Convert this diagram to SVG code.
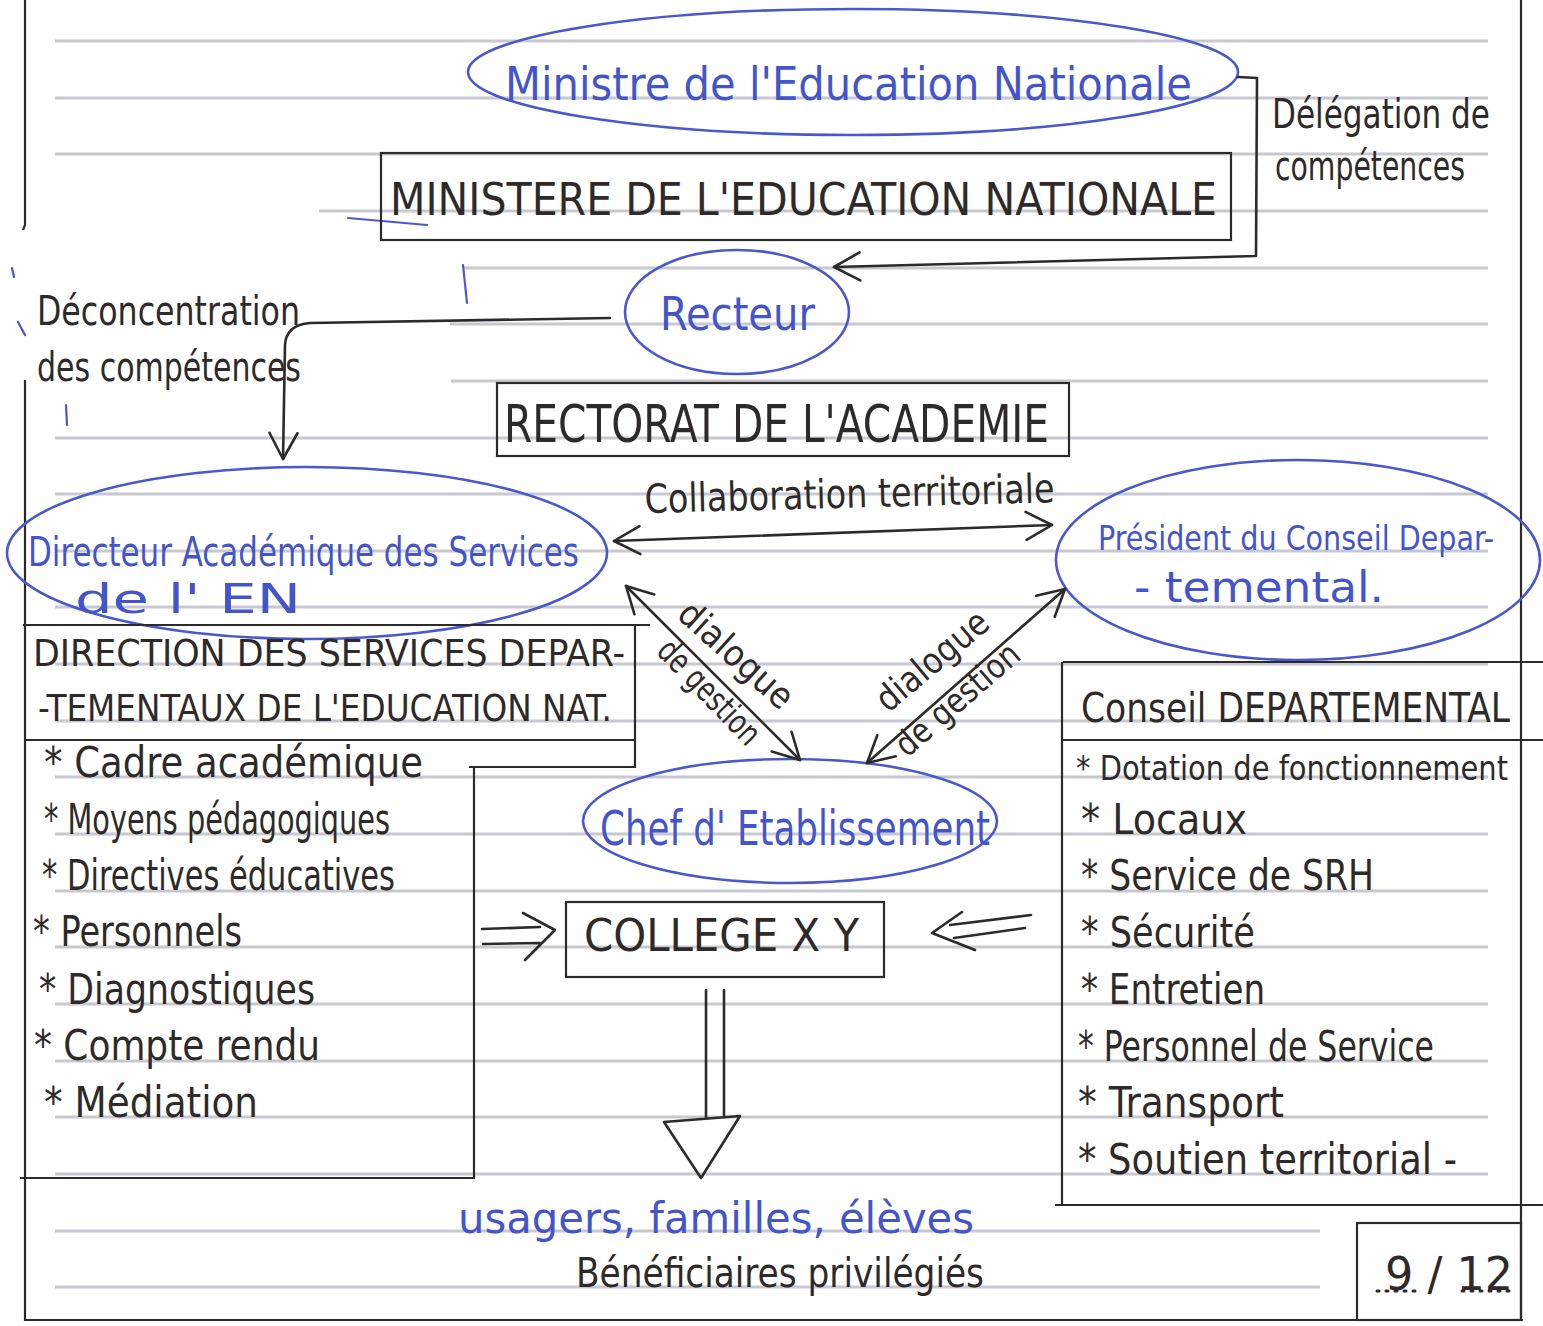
<svg xmlns="http://www.w3.org/2000/svg" width="1543" height="1326" viewBox="0 0 1543 1326">
<defs>
<style>
.rule{stroke:#c8c8d0;stroke-width:3;fill:none}
.ink{stroke:#2e2a2a;stroke-width:2.6;fill:none;stroke-linecap:round;stroke-linejoin:round}
.frame{stroke:#2e2a2a;stroke-width:2.2;fill:none}
.blue{stroke:#4a58cf;stroke-width:2.6;fill:none}
.bt{stroke:#4a58cf;stroke-width:2.2;fill:none;stroke-linecap:round}
text{font-family:'Liberation Sans Narrow','DejaVu Sans Condensed','Liberation Sans',sans-serif;fill:#2e2a2a}
.tb{fill:#4455cc}
</style>
<marker id="chev" viewBox="-32 -20 36 40" refX="0" refY="0" markerWidth="36" markerHeight="40" markerUnits="userSpaceOnUse" orient="auto-start-reverse">
<path d="M-26,-14 L0,0 L-26,14" fill="none" stroke="#2e2a2a" stroke-width="2.6" stroke-linecap="round" stroke-linejoin="round"/>
</marker>
</defs>
<rect width="1543" height="1326" fill="#ffffff"/>

<g id="ruled-lines">
<line class="rule" x1="55" y1="41" x2="1488" y2="41"/>
<line class="rule" x1="55" y1="98" x2="1488" y2="98"/>
<line class="rule" x1="55" y1="154" x2="1488" y2="154"/>
<line class="rule" x1="319" y1="211" x2="1488" y2="211"/>
<line class="rule" x1="464" y1="268" x2="1488" y2="268"/>
<line class="rule" x1="450" y1="324" x2="1488" y2="324"/>
<line class="rule" x1="451" y1="381" x2="1488" y2="381"/>
<line class="rule" x1="55" y1="438" x2="1488" y2="438"/>
<line class="rule" x1="55" y1="494" x2="1488" y2="494"/>
<line class="rule" x1="55" y1="551" x2="1488" y2="551"/>
<line class="rule" x1="55" y1="607" x2="1488" y2="607"/>
<line class="rule" x1="55" y1="664" x2="1488" y2="664"/>
<line class="rule" x1="55" y1="721" x2="1488" y2="721"/>
<line class="rule" x1="55" y1="777" x2="1488" y2="777"/>
<line class="rule" x1="55" y1="834" x2="1488" y2="834"/>
<line class="rule" x1="55" y1="891" x2="1488" y2="891"/>
<line class="rule" x1="55" y1="947" x2="1488" y2="947"/>
<line class="rule" x1="55" y1="1004" x2="1488" y2="1004"/>
<line class="rule" x1="55" y1="1061" x2="1488" y2="1061"/>
<line class="rule" x1="55" y1="1117" x2="1488" y2="1117"/>
<line class="rule" x1="55" y1="1174" x2="1488" y2="1174"/>
<line class="rule" x1="55" y1="1231" x2="1320" y2="1231"/>
<line class="rule" x1="55" y1="1287" x2="1320" y2="1287"/>
</g>

<g id="page-frame">
<path class="frame" d="M25,0 L25,225 L23,230"/>
<path class="frame" d="M25,380 L25,1320 L1523,1320"/>
<line class="frame" x1="1521" y1="0" x2="1521" y2="1320"/>
<line class="bt" x1="12" y1="268" x2="14" y2="277"/>
<line class="bt" x1="18" y1="322" x2="25" y2="335"/>
<line class="bt" x1="463" y1="265" x2="467" y2="303"/>
<line class="bt" x1="66" y1="405" x2="67" y2="425"/>
<line class="bt" x1="348" y1="218" x2="427" y2="225"/>
</g>

<g id="ministre">
<ellipse class="blue" cx="853" cy="72" rx="385" ry="63"/>
<text class="tb" x="505" y="100" font-size="46" textLength="687" lengthAdjust="spacingAndGlyphs">Ministre de l'Education Nationale</text>
</g>

<g id="ministere">
<rect class="frame" x="381" y="153" width="850" height="87"/>
<text x="390" y="215" font-size="44" textLength="827" lengthAdjust="spacingAndGlyphs">MINISTERE DE L'EDUCATION NATIONALE</text>
</g>

<g id="delegation-label">
<text x="1272" y="128" font-size="40" textLength="218" lengthAdjust="spacingAndGlyphs">Délégation de</text>
<text x="1275" y="180" font-size="40" textLength="190" lengthAdjust="spacingAndGlyphs">compétences</text>
</g>

<g id="recteur">
<ellipse class="blue" cx="737" cy="312" rx="112" ry="62"/>
<text class="tb" x="660" y="330" font-size="46" textLength="155" lengthAdjust="spacingAndGlyphs">Recteur</text>
</g>

<g id="deconcentration-label">
<text x="37" y="325" font-size="40" textLength="263" lengthAdjust="spacingAndGlyphs">Déconcentration</text>
<text x="37" y="381" font-size="40" textLength="264" lengthAdjust="spacingAndGlyphs">des compétences</text>
</g>

<g id="rectorat">
<rect class="frame" x="497" y="383" width="572" height="73"/>
<text x="504" y="442" font-size="52" textLength="545" lengthAdjust="spacingAndGlyphs">RECTORAT DE L'ACADEMIE</text>
</g>

<g id="collaboration-label">
<text x="645" y="513" font-size="40" textLength="410" lengthAdjust="spacingAndGlyphs" transform="rotate(-1.5 645 513)">Collaboration territoriale</text>
</g>

<g id="directeur">
<ellipse class="blue" cx="307" cy="553" rx="300" ry="86"/>
<text class="tb" x="28" y="566" font-size="40" textLength="551" lengthAdjust="spacingAndGlyphs">Directeur Académique des Services</text>
<text class="tb" x="75" y="613" font-size="40" textLength="226" lengthAdjust="spacingAndGlyphs">de l' EN</text>
</g>

<g id="president">
<ellipse class="blue" cx="1298" cy="560" rx="242" ry="100"/>
<text class="tb" x="1098" y="550" font-size="34" textLength="396" lengthAdjust="spacingAndGlyphs">Président du Conseil Depar-</text>
<text class="tb" x="1134" y="602" font-size="42" textLength="250" lengthAdjust="spacingAndGlyphs">- temental.</text>
</g>

<g id="dsden">
<path class="frame" d="M23,625 L650,625 M635,625 L635,767 L469,767 M25,740 L635,740 M474,767 L474,1178 L20,1178"/>
<text x="33" y="666" font-size="38" textLength="592" lengthAdjust="spacingAndGlyphs">DIRECTION DES SERVICES DEPAR-</text>
<text x="38" y="721" font-size="38" textLength="574" lengthAdjust="spacingAndGlyphs">-TEMENTAUX DE L'EDUCATION NAT.</text>
<text x="44" y="777" font-size="42" textLength="379" lengthAdjust="spacingAndGlyphs">* Cadre académique</text>
<text x="44" y="834" font-size="42" textLength="346" lengthAdjust="spacingAndGlyphs">* Moyens pédagogiques</text>
<text x="42" y="890" font-size="42" textLength="353" lengthAdjust="spacingAndGlyphs">* Directives éducatives</text>
<text x="33" y="946" font-size="42" textLength="209" lengthAdjust="spacingAndGlyphs">* Personnels</text>
<text x="39" y="1004" font-size="42" textLength="276" lengthAdjust="spacingAndGlyphs">* Diagnostiques</text>
<text x="34" y="1060" font-size="42" textLength="286" lengthAdjust="spacingAndGlyphs">* Compte rendu</text>
<text x="44" y="1117" font-size="42" textLength="214" lengthAdjust="spacingAndGlyphs">* Médiation</text>
</g>

<g id="conseil">
<path class="frame" d="M1063,662 L1543,662 M1062,662 L1062,1205 M1062,740 L1543,740 M1055,1205 L1543,1205"/>
<text x="1081" y="722" font-size="40" textLength="429" lengthAdjust="spacingAndGlyphs">Conseil DEPARTEMENTAL</text>
<text x="1076" y="780" font-size="34" textLength="432" lengthAdjust="spacingAndGlyphs">* Dotation de fonctionnement</text>
<text x="1081" y="834" font-size="42" textLength="166" lengthAdjust="spacingAndGlyphs">* Locaux</text>
<text x="1081" y="890" font-size="42" textLength="293" lengthAdjust="spacingAndGlyphs">* Service de SRH</text>
<text x="1081" y="947" font-size="42" textLength="174" lengthAdjust="spacingAndGlyphs">* Sécurité</text>
<text x="1081" y="1004" font-size="42" textLength="184" lengthAdjust="spacingAndGlyphs">* Entretien</text>
<text x="1078" y="1061" font-size="42" textLength="356" lengthAdjust="spacingAndGlyphs">* Personnel de Service</text>
<text x="1078" y="1117" font-size="42" textLength="206" lengthAdjust="spacingAndGlyphs">* Transport</text>
<text x="1078" y="1174" font-size="42" textLength="379" lengthAdjust="spacingAndGlyphs">* Soutien territorial -</text>
</g>

<g id="chef">
<ellipse class="blue" cx="790" cy="821" rx="207" ry="62"/>
<text class="tb" x="600" y="845" font-size="48" textLength="390" lengthAdjust="spacingAndGlyphs">Chef d' Etablissement</text>
</g>

<g id="college">
<rect class="frame" x="566" y="902" width="318" height="75"/>
<text x="584" y="951" font-size="44" textLength="275" lengthAdjust="spacingAndGlyphs">COLLEGE X Y</text>
</g>

<g id="beneficiaires">
<text class="tb" x="458" y="1233" font-size="42" textLength="516" lengthAdjust="spacingAndGlyphs">usagers, familles, élèves</text>
<text x="576" y="1287" font-size="40" textLength="408" lengthAdjust="spacingAndGlyphs">Bénéficiaires privilégiés</text>
</g>

<g id="page-number">
<rect class="frame" x="1357" y="1223" width="164" height="97"/>
<text x="1385" y="1290" font-size="46" textLength="128" lengthAdjust="spacingAndGlyphs">9 / 12</text>
<line x1="1377" y1="1291" x2="1420" y2="1291" stroke="#2e2a2a" stroke-width="3" stroke-dasharray="2 7" stroke-linecap="round"/>
<line x1="1462" y1="1291" x2="1512" y2="1291" stroke="#2e2a2a" stroke-width="3" stroke-dasharray="2 7" stroke-linecap="round"/>
</g>

<g id="connectors">
<path class="ink" d="M1238,77 L1257,78 L1256,256 L834,267" marker-end="url(#chev)"/>
<path class="ink" d="M610,318 L310,323 Q286,325 285,345 L283,459" marker-end="url(#chev)"/>
<path class="ink" d="M614,541 L1052,525" marker-start="url(#chev)" marker-end="url(#chev)"/>
<path class="ink" d="M626,586 L800,760" marker-start="url(#chev)" marker-end="url(#chev)"/>
<path class="ink" d="M1065,589 L867,763" marker-start="url(#chev)" marker-end="url(#chev)"/>
<text x="728" y="664" font-size="36" text-anchor="middle" textLength="141" lengthAdjust="spacingAndGlyphs" transform="rotate(42 728 664)">dialogue</text>
<text x="701" y="700" font-size="34" text-anchor="middle" textLength="132" lengthAdjust="spacingAndGlyphs" transform="rotate(46 701 700)">de gestion</text>
<text x="940" y="670" font-size="36" text-anchor="middle" textLength="135" lengthAdjust="spacingAndGlyphs" transform="rotate(-40 940 670)">dialogue</text>
<text x="965" y="708" font-size="34" text-anchor="middle" textLength="153" lengthAdjust="spacingAndGlyphs" transform="rotate(-41 965 708)">de gestion</text>
<path class="ink" d="M482,929 L540,927 M483,944 L540,943 M523,913 L555,930 L525,960"/>
<path class="ink" d="M950,925 L1031,915 M954,938 L1025,928 M962,912 L932,933 L975,950"/>
<path class="ink" d="M706,990 L706,1118 M724,990 L724,1116 M664,1122 L740,1116 L701,1178 Z"/>
</g>
</svg>
